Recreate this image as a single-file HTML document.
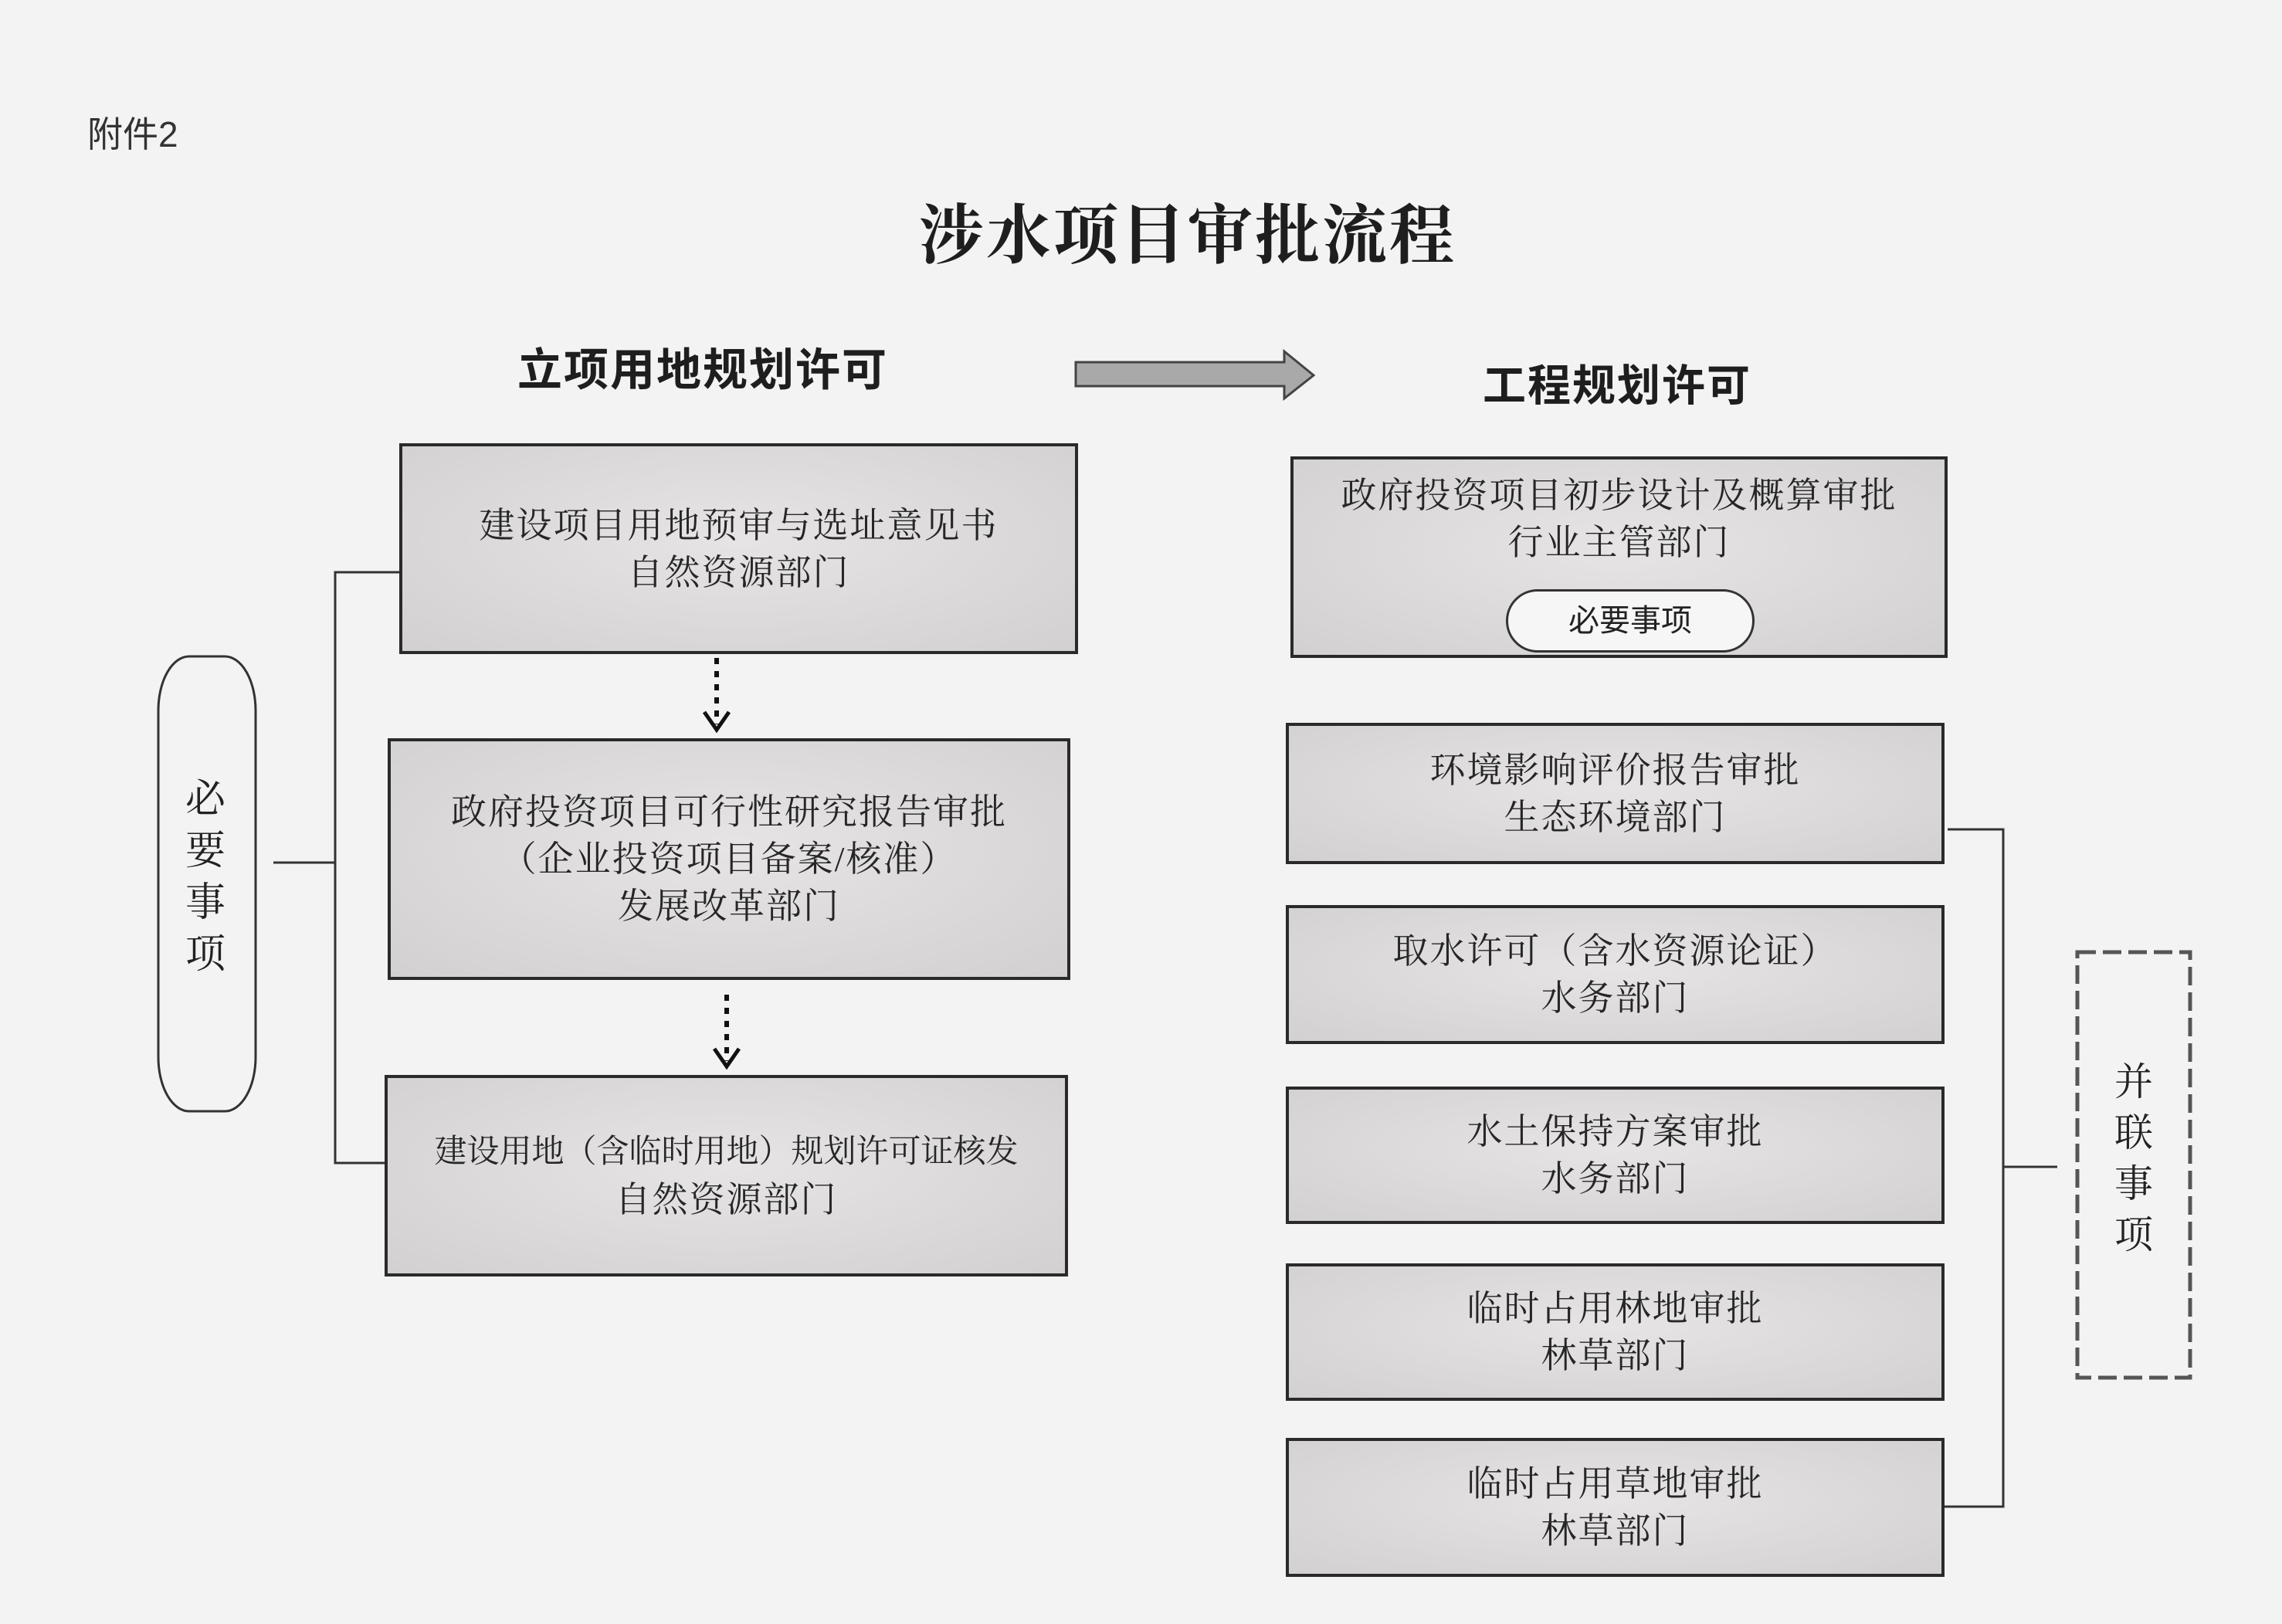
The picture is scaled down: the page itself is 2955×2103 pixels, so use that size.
<!DOCTYPE html>
<html><head><meta charset="utf-8"><style>
html,body{margin:0;padding:0}
body{width:2955px;height:2103px;position:relative;background:#f3f3f3;overflow:hidden;font-family:"Liberation Serif","Noto Serif CJK SC",serif;color:#222}
.a{position:absolute}
.box{position:absolute;box-sizing:border-box;border:4px solid #2a2a2a;background:radial-gradient(ellipse at 50% 45%,#e6e4e5 0%,#d8d6d7 70%,#d2d0d1 100%);display:flex;flex-direction:column;align-items:center;justify-content:center;font-size:46px;line-height:61px;text-align:center;color:#262626;letter-spacing:2px}
.t{position:absolute;white-space:nowrap}
</style></head><body>
<div class="t" style="left:113px;top:138px;font-size:46px;font-family:'Liberation Sans','Noto Sans CJK SC',sans-serif;color:#333">附件2</div>
<div class="t" style="left:1190px;top:238px;font-size:84px;font-weight:bold;letter-spacing:3px;color:#1e1e1e">涉水项目审批流程</div>
<div class="t" style="left:670px;top:432px;font-size:58px;font-weight:bold;font-family:'Liberation Sans','Noto Sans CJK SC',sans-serif;color:#1e1e1e;letter-spacing:2px">立项用地规划许可</div>
<div class="t" style="left:1920px;top:455px;font-size:56px;font-weight:bold;font-family:'Liberation Sans','Noto Sans CJK SC',sans-serif;color:#1e1e1e;letter-spacing:2px">工程规划许可</div>

<svg class="a" style="left:0;top:0" width="2955" height="2103">
<polygon points="1393,469 1663,469 1663,455 1701,486 1663,516 1663,500 1393,500" fill="#a9a9a9" stroke="#444" stroke-width="3"/>
<g stroke="#333" stroke-width="3" fill="none">
<polyline points="517,741 434,741 434,1506 498,1506"/>
<line x1="354" y1="1117" x2="434" y2="1117"/>
<polyline points="2522,1074 2594,1074 2594,1951 2518,1951"/>
<line x1="2594" y1="1511" x2="2664" y2="1511"/>
</g>
<g stroke="#111" stroke-width="6" fill="none">
<line x1="928" y1="852" x2="928" y2="938" stroke-dasharray="8,9"/>
<polyline points="912,922 928,945 944,922" stroke-width="5"/>
<line x1="941" y1="1288" x2="941" y2="1374" stroke-dasharray="8,9"/>
<polyline points="925,1358 941,1381 957,1358" stroke-width="5"/>
</g>
<rect x="2690" y="1233" width="146" height="551" fill="none" stroke="#555" stroke-width="5" stroke-dasharray="24,9"/>
<rect x="205" y="850" width="126" height="589" rx="40" ry="70" fill="#f3f3f3" stroke="#333" stroke-width="3"/>
</svg>

<div class="t" style="left:240px;top:1002px;font-size:52px;line-height:67px;width:54px;white-space:normal">必要事项</div>
<div class="t" style="left:2738px;top:1368px;font-size:50px;line-height:66px;width:52px;white-space:normal">并联事项</div>

<div class="box" style="left:517px;top:574px;width:879px;height:273px"><div>建设项目用地预审与选址意见书</div><div>自然资源部门</div></div>
<div class="box" style="left:502px;top:956px;width:884px;height:313px"><div>政府投资项目可行性研究报告审批</div><div>（企业投资项目备案/核准）</div><div>发展改革部门</div></div>
<div class="box" style="left:498px;top:1392px;width:885px;height:261px;font-size:42px;letter-spacing:0"><div>建设用地（含临时用地）规划许可证核发</div><div style="font-size:46px;letter-spacing:2px">自然资源部门</div></div>

<div class="box" style="left:1671px;top:591px;width:851px;height:261px;justify-content:flex-start;padding-top:16px"><div>政府投资项目初步设计及概算审批</div><div>行业主管部门</div></div>
<div class="a" style="left:1950px;top:763px;width:322px;height:82px;box-sizing:border-box;border:3px solid #333;border-radius:41px;background:#f6f6f6;font-size:40px;line-height:76px;text-align:center;font-family:'Liberation Sans','Noto Sans CJK SC',sans-serif">必要事项</div>

<div class="box" style="left:1665px;top:936px;width:853px;height:183px"><div>环境影响评价报告审批</div><div>生态环境部门</div></div>
<div class="box" style="left:1665px;top:1172px;width:853px;height:180px"><div>取水许可（含水资源论证）</div><div>水务部门</div></div>
<div class="box" style="left:1665px;top:1407px;width:853px;height:178px"><div>水土保持方案审批</div><div>水务部门</div></div>
<div class="box" style="left:1665px;top:1636px;width:853px;height:178px"><div>临时占用林地审批</div><div>林草部门</div></div>
<div class="box" style="left:1665px;top:1862px;width:853px;height:180px"><div>临时占用草地审批</div><div>林草部门</div></div>
</body></html>
